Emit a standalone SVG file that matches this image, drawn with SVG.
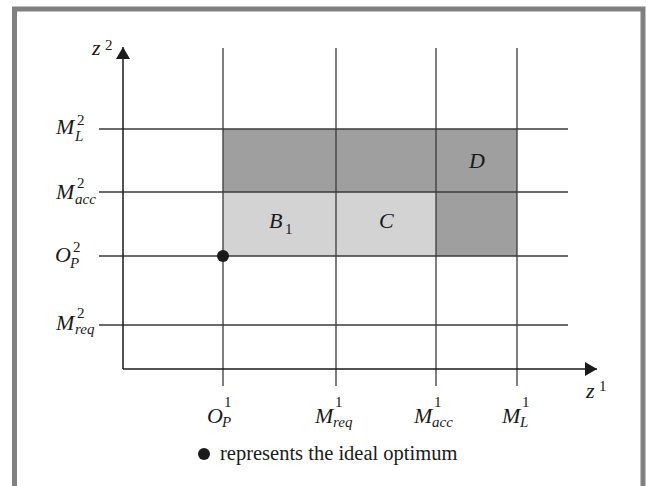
<svg xmlns="http://www.w3.org/2000/svg" width="646" height="486" viewBox="0 0 646 486">
<style>
.grid{stroke:#3a3a3a;stroke-width:1.3;fill:none}
.axis{stroke:#1a1a1a;stroke-width:1.5;fill:none}
.it{font-family:"Liberation Serif","Times New Roman",serif;font-style:italic;font-size:22px;fill:#1a1a1a}
.sup{font-family:"Liberation Serif","Times New Roman",serif;font-size:15px;fill:#1a1a1a}
.sub{font-family:"Liberation Serif","Times New Roman",serif;font-style:italic;font-size:15px;fill:#1a1a1a}
.leg{font-family:"Liberation Serif","Times New Roman",serif;font-size:20.5px;fill:#1a1a1a}
</style>
<defs>
<marker id="ah" viewBox="0 0 12 14" refX="12" refY="7" markerWidth="12" markerHeight="14" markerUnits="userSpaceOnUse" orient="auto">
<path d="M0,0 L12,7 L0,14 Z" fill="#1a1a1a"/>
</marker>
</defs>
<rect x="14.5" y="9" width="628.5" height="490" fill="#fff" stroke="#808080" stroke-width="5"/>
<g id="regions">
<rect id="region-dark" x="223" y="129" width="294" height="63" fill="#9e9f9e"/>
<rect id="region-dark2" x="436" y="192" width="81" height="64" fill="#9e9f9e"/>
<rect id="region-light" x="223" y="192" width="213" height="64" fill="#d3d3d3"/>
</g>
<g id="connectors">
<line class="grid" x1="99" y1="129" x2="568" y2="129"/>
<line class="grid" x1="99" y1="192" x2="568" y2="192"/>
<line class="grid" x1="99" y1="256" x2="568" y2="256"/>
<line class="grid" x1="99" y1="325" x2="568" y2="325"/>
<line class="grid" x1="223" y1="48" x2="223" y2="386"/>
<line class="grid" x1="336" y1="48" x2="336" y2="386"/>
<line class="grid" x1="436" y1="48" x2="436" y2="386"/>
<line class="grid" x1="517" y1="48" x2="517" y2="386"/>
<line class="axis" x1="123" y1="369" x2="123" y2="47" marker-end="url(#ah)"/>
<line class="axis" x1="123" y1="369" x2="597" y2="369" marker-end="url(#ah)"/>
</g>
<g id="axis-z2"><text class="it" x="92" y="55">z</text><text class="sup" x="105" y="50">2</text></g>
<g id="axis-z1"><text class="it" x="586" y="398">z</text><text class="sup" x="599" y="391">1</text></g>
<g id="label-ML2"><text class="it" x="56" y="134">M</text><text class="sup" x="77" y="125">2</text><text class="sub" x="75" y="141">L</text></g>
<g id="label-Macc2"><text class="it" x="56" y="199">M</text><text class="sup" x="77" y="188">2</text><text class="sub" x="75" y="204">acc</text></g>
<g id="label-OP2"><text class="it" x="55" y="262">O</text><text class="sup" x="73" y="252">2</text><text class="sub" x="70" y="268">P</text></g>
<g id="label-Mreq2"><text class="it" x="56" y="330">M</text><text class="sup" x="77" y="318">2</text><text class="sub" x="75" y="334">req</text></g>
<g id="label-OP1"><text class="it" x="207" y="423">O</text><text class="sup" x="224" y="407">1</text><text class="sub" x="222" y="427">P</text></g>
<g id="label-Mreq1"><text class="it" x="315" y="423">M</text><text class="sup" x="335" y="407">1</text><text class="sub" x="333" y="427">req</text></g>
<g id="label-Macc1"><text class="it" x="414" y="423">M</text><text class="sup" x="434" y="407">1</text><text class="sub" x="432" y="427">acc</text></g>
<g id="label-ML1"><text class="it" x="502" y="423">M</text><text class="sup" x="522" y="407">1</text><text class="sub" x="520" y="427">L</text></g>
<g id="node-B1"><text class="it" x="269" y="228">B</text><text class="sup" x="285" y="234">1</text></g>
<g id="node-C"><text class="it" x="379" y="228">C</text></g>
<g id="node-D"><text class="it" x="469" y="168">D</text></g>
<g id="node-optimum"><circle cx="223" cy="256" r="6" fill="#1a1a1a"/></g>
<g id="legend"><circle cx="204" cy="454" r="6" fill="#1a1a1a"/><text class="leg" x="220" y="460">represents the ideal optimum</text></g>
</svg>
